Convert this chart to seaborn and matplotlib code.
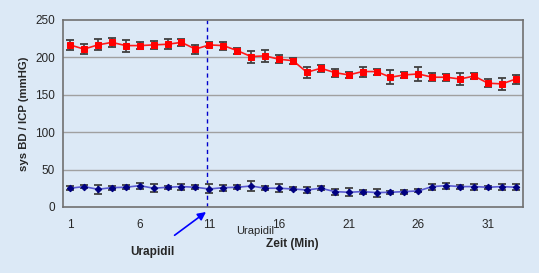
import numpy as np
import pandas as pd
import matplotlib
matplotlib.use("Agg")
import matplotlib.pyplot as plt
import seaborn as sns

# ---- data ----
minutes = list(range(1, 34))
bd_values = [216.6, 211, 216.6, 220, 215.7, 215.7, 216.6, 217.5, 220, 211,
             216.6, 215.7, 209, 201, 202, 197.4, 195.6, 180, 185.4, 179.6,
             176.5, 181, 181, 173.4, 176.5, 177.8, 173.4, 173.4, 171, 175,
             165.4, 164.5, 171]
bd_err = [6.7, 6.7, 7.3, 6, 8, 4.5, 5.3, 6.7, 4.5, 6,
          3.3, 5.3, 4, 8, 8, 5.3, 4, 7.5, 4.5, 5.3,
          4.5, 6.7, 4, 9, 4, 9, 5.3, 4.7, 8, 4.5,
          5.3, 8, 6]
icp_values = [25, 27.2, 23.6, 25.8, 26.3, 28.5, 25, 26.3, 27.2, 26.3,
              24, 25.8, 26.3, 28, 25, 25, 24, 22.7, 25, 20.5,
              19.6, 20.5, 19.2, 19.6, 20.5, 21.4, 27.2, 28.5, 27.2, 27.2,
              26.3, 27.2, 26.3]
icp_err = [2.5, 2, 6, 2.7, 2.7, 4, 5.3, 2, 4, 2.7,
           6, 4, 2.7, 6.7, 2.7, 5.3, 2, 4, 2.7, 4,
           5.3, 2.7, 5.3, 2, 2.7, 2, 4, 4, 2.7, 4,
           2, 4, 4]
x_tick_labels = [1, 6, 11, 16, 21, 26, 31]
y_ticks = [0, 50, 100, 150, 200, 250]
marker_line_x = 10.8

df = pd.DataFrame({"Zeit": minutes, "BD": bd_values, "ICP": icp_values})

sns.set_theme(style="white")
plt.rcParams['font.family'] = ['Liberation Sans', 'DejaVu Sans']

bg = "#dce9f6"
fig = plt.figure(figsize=(5.39, 2.73), dpi=100, facecolor=bg)
ax = fig.add_axes([0.117, 0.242, 0.853, 0.685])
ax.set_facecolor(bg)

for yv in y_ticks[1:-1]:
    ax.axhline(yv, color="#a0a0a0", lw=1.0, zorder=0)

# error bars
ax.errorbar(minutes, bd_values, yerr=bd_err, fmt="none", ecolor="#404040",
            elinewidth=1.2, capsize=2.6, capthick=1.3, zorder=3)
ax.errorbar(minutes, icp_values, yerr=icp_err, fmt="none", ecolor="#404040",
            elinewidth=1.2, capsize=2.6, capthick=1.3, zorder=3)

sns.lineplot(data=df, x="Zeit", y="BD", ax=ax, color="#ff1a1a", lw=1.2,
             marker="s", markersize=4.2, markeredgecolor="#ff0000",
             markerfacecolor="#ff0000", zorder=4)
sns.lineplot(data=df, x="Zeit", y="ICP", ax=ax, color="#5a5ad0", lw=1.2,
             marker="D", markersize=3.3, markeredgecolor="#000080",
             markerfacecolor="#000080", zorder=4)

ax.axvline(marker_line_x, color="#0000cc", lw=1.0, ls=(0, (3, 2.5)), zorder=1)

ax.set_xlim(0.5, 33.5)
ax.set_ylim(0, 250)
ax.set_yticks(y_ticks)
ax.set_yticklabels([str(v) for v in y_ticks], fontsize=8.5)
ax.set_xticks(x_tick_labels)
ax.set_xticklabels([str(v) for v in x_tick_labels], fontsize=8.5)
ax.set_xticks(np.arange(0.5, 34, 1), minor=True)
ax.tick_params(axis="x", which="major", length=0, pad=9)
ax.tick_params(axis="x", which="minor", length=4, width=0.8, color="#555555", direction="out")
ax.tick_params(axis="y", which="major", length=4, width=0.8, color="#555555", direction="out", pad=2)

for s in ["left", "bottom", "right", "top"]:
    ax.spines[s].set_color("#707070")
    ax.spines[s].set_linewidth(1.2)

ax.set_xlabel("")
ax.set_ylabel("sys BD / ICP (mmHG)", fontsize=8.2, fontweight="bold", labelpad=4)

fig.text(292 / 539, 1 - 244 / 273, "Zeit (Min)", fontsize=8.5, fontweight="bold",
         ha="center", va="center")
fig.text(255 / 539, 1 - 231 / 273, "Urapidil", fontsize=8, ha="center", va="center")
ax.annotate("Urapidil", xy=(206 / 539, 1 - 212 / 273), xycoords="figure fraction",
            xytext=(152 / 539, 1 - 252 / 273), textcoords="figure fraction",
            fontsize=8.5, fontweight="bold", ha="center", va="center",
            arrowprops=dict(arrowstyle="-|>", color="#0000ff", lw=1.2,
                            shrinkA=9, shrinkB=0, mutation_scale=12))

fig.savefig("out.png", dpi=100, facecolor=bg)
